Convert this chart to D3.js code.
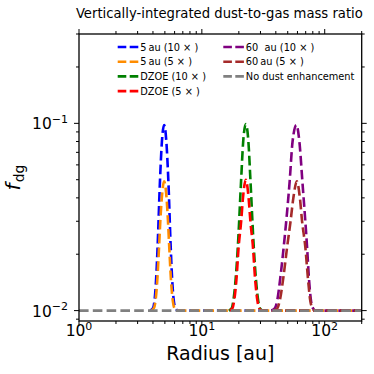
<!DOCTYPE html>
<html>
<head>
<meta charset="utf-8">
<script src="https://cdn.jsdelivr.net/npm/d3@7"></script>
<style>
  body { margin: 0; background: #fff; }
  svg { display: block; font-family: "DejaVu Sans", sans-serif; }
</style>
</head>
<body>
<svg id="graphArea" width="374" height="374"></svg>
<script>

/* データ */
const title = "Vertically-integrated dust-to-gas mass ratio";
const xLabel = "Radius [au]";

const r5au10 = [3.79, 4.00, 4.11, 4.25, 4.36, 4.56, 4.73, 4.93, 5.14, 5.34, 5.58, 5.72, 5.92, 6.09, 6.41, 200];
const f5au10 = [0.01, 0.0103, 0.0112, 0.015, 0.0217, 0.049, 0.08, 0.098, 0.08, 0.049, 0.0217, 0.015, 0.0112, 0.0103, 0.01, 0.01];

const r5au5 = [3.86, 4.07, 4.19, 4.35, 4.48, 4.59, 4.72, 4.93, 5.16, 5.30, 5.43, 5.59, 5.81, 5.98, 6.30, 200];
const f5au5 = [0.01, 0.0103, 0.0112, 0.015, 0.0217, 0.03, 0.04, 0.049, 0.04, 0.03, 0.0217, 0.015, 0.0112, 0.0103, 0.01, 0.01];

const rDzoe10 = [16.55, 17.51, 18.01, 18.88, 19.61, 20.85, 21.70, 22.79, 23.92, 24.88, 26.47, 27.48, 28.80, 29.63, 31.34, 200];
const fDzoe10 = [0.01, 0.0103, 0.0112, 0.015, 0.0217, 0.049, 0.08, 0.099, 0.08, 0.049, 0.0217, 0.015, 0.0112, 0.0103, 0.01, 0.01];

const rDzoe5 = [16.87, 17.75, 18.29, 19.17, 19.90, 20.89, 21.61, 22.79, 24.01, 24.83, 26.08, 27.07, 28.38, 29.24, 30.76, 200];
const fDzoe5 = [0.01, 0.0103, 0.0112, 0.015, 0.0217, 0.03, 0.04, 0.050, 0.04, 0.03, 0.0217, 0.015, 0.0112, 0.0103, 0.01, 0.01];

const r60au10 = [36.77, 39.26, 40.92, 43.53, 46.31, 51.84, 54.74, 58.80, 62.19, 65.79, 71.87, 74.34, 77.47, 80.14, 84.00, 200];
const f60au10 = [0.01, 0.0103, 0.0112, 0.015, 0.0217, 0.049, 0.08, 0.098, 0.08, 0.049, 0.0217, 0.015, 0.0112, 0.0103, 0.01, 0.01];

const r60au5 = [38.53, 41.15, 42.96, 46.05, 49.36, 52.72, 55.56, 59.34, 62.78, 65.43, 69.60, 72.95, 76.45, 79.37, 83.21, 200];
const f60au5 = [0.01, 0.0103, 0.0112, 0.015, 0.0217, 0.03, 0.04, 0.049, 0.04, 0.03, 0.0217, 0.015, 0.0112, 0.0103, 0.01, 0.01];

const rNoDust = [1, 200];
const fNoDust = [0.01, 0.01];

const seriesNames = [
  "5\u2009au (10 \u00d7 )", "5\u2009au (5 \u00d7 )", "DZOE (10 \u00d7 )", "DZOE (5 \u00d7 )",
  "60  au (10 \u00d7 )", "60\u2009au (5 \u00d7 )", "No dust enhancement"
];
const seriesColors = ["blue", "darkorange", "green", "red", "purple", "brown", "gray"];

const xMajor = [1, 10, 100];
const xMajorExp = ["0", "1", "2"];
const yMajor = [0.01, 0.1];
const yMajorExp = ["\u22122", "\u22121"];


/* 描画 */
let svg = d3.select("#graphArea");

// プロット領域
let pl = 79, pr = 361.7, pt = 34, pb = 321;

let x = d3.scaleLog().domain([1, 200]).range([pl, pr]);
let y = d3.scaleLog().domain([0.0088, 0.3]).range([pb, pt]);

// 系列をまとめる
let rs = [r5au10, r5au5, rDzoe10, rDzoe5, r60au10, r60au5, rNoDust];
let fs = [f5au10, f5au5, fDzoe10, fDzoe5, f60au10, f60au5, fNoDust];
let series = rs.map((r, i) => ({
  name: seriesNames[i],
  color: seriesColors[i],
  points: r.map((v, j) => [v, fs[i][j]])
}));

svg.append("clipPath").attr("id", "clip")
  .append("rect")
  .attr("x", pl).attr("y", pt)
  .attr("width", pr - pl).attr("height", pb - pt);

let line = d3.line()
  .x(d => x(d[0]))
  .y(d => y(d[1]))
  .curve(d3.curveMonotoneX);

let lw = 2.6;
let dash = "9.6 4.2";

svg.append("g")
  .attr("clip-path", "url(#clip)")
  .selectAll("path")
  .data(series)
  .enter()
  .append("path")
  .attr("d", d => line(d.points))
  .attr("fill", "none")
  .attr("stroke", d => d.color)
  .attr("stroke-width", lw)
  .attr("stroke-dasharray", dash);

// 目盛り (外向き、4辺)
let majLen = 5, minLen = 3;
let xt = x.ticks();
let yt = y.ticks();
let isMajor = (v, list) => list.some(m => Math.abs(v / m - 1) < 1e-6);

let axes = svg.append("g")
  .attr("stroke", "#000")
  .attr("stroke-width", 1);

xt.forEach(v => {
  let len = isMajor(v, xMajor) ? majLen : minLen;
  let px = x(v);
  axes.append("line").attr("x1", px).attr("x2", px).attr("y1", pb).attr("y2", pb + len);
  axes.append("line").attr("x1", px).attr("x2", px).attr("y1", pt).attr("y2", pt - len);
});
yt.forEach(v => {
  let len = isMajor(v, yMajor) ? majLen : minLen;
  let py = y(v);
  axes.append("line").attr("y1", py).attr("y2", py).attr("x1", pl).attr("x2", pl - len);
  axes.append("line").attr("y1", py).attr("y2", py).attr("x1", pr).attr("x2", pr + len);
});

// 枠線
svg.append("rect")
  .attr("x", pl).attr("y", pt)
  .attr("width", pr - pl).attr("height", pb - pt)
  .attr("fill", "none")
  .attr("stroke", "#000")
  .attr("stroke-width", 1.3);

// 目盛りラベル
let tickFs = 15.5, supFs = 11;
xMajor.forEach((v, i) => {
  let t = svg.append("text")
    .attr("x", x(v))
    .attr("y", 336)
    .attr("text-anchor", "middle")
    .attr("font-size", tickFs + "px");
  t.append("tspan").text("10");
  t.append("tspan").attr("dy", -6.5).attr("font-size", supFs + "px").text(xMajorExp[i]);
});
yMajor.forEach((v, i) => {
  let t = svg.append("text")
    .attr("x", 68)
    .attr("y", y(v) + 6)
    .attr("text-anchor", "end")
    .attr("font-size", tickFs + "px");
  t.append("tspan").text("10");
  t.append("tspan").attr("dy", -6.5).attr("font-size", supFs + "px").text(yMajorExp[i]);
});

// 軸タイトル
svg.append("text")
  .attr("x", (pl + pr) / 2)
  .attr("y", 360)
  .attr("text-anchor", "middle")
  .attr("font-size", "19px")
  .text(xLabel);

let yl = svg.append("text")
  .attr("transform", `translate(20,${(pt + pb) / 2}) rotate(-90)`)
  .attr("text-anchor", "middle")
  .attr("font-size", "20px");
yl.append("tspan").attr("font-style", "italic").text("f");
yl.append("tspan").attr("font-size", "14px").attr("dy", 3.5).attr("dx", 1).text("dg");

// タイトル
svg.append("text")
  .attr("x", (pl + pr) / 2 - 1)
  .attr("y", 18)
  .attr("text-anchor", "middle")
  .attr("font-size", "13.2px")
  .text(title);

/* レジェンド */
let lg = svg.append("g").attr("class", "legend");
let colX = [117.7, 223.3];
let rowY0 = 47, rowH = 14.7;
let nRows = 4;
series.forEach((s, i) => {
  let c = Math.floor(i / nRows);
  let r = i % nRows;
  let ly = rowY0 + rowH * r;
  lg.append("line")
    .attr("x1", colX[c]).attr("x2", colX[c] + 20.6)
    .attr("y1", ly).attr("y2", ly)
    .attr("stroke", s.color)
    .attr("stroke-width", lw)
    .attr("stroke-dasharray", "8.6 3.4");
  lg.append("text")
    .attr("x", colX[c] + 22.5)
    .attr("y", ly)
    .attr("dominant-baseline", "central")
    .attr("font-size", "9.8px")
    .style("white-space", "pre")
    .text(s.name);
});

</script>
</body>
</html>
